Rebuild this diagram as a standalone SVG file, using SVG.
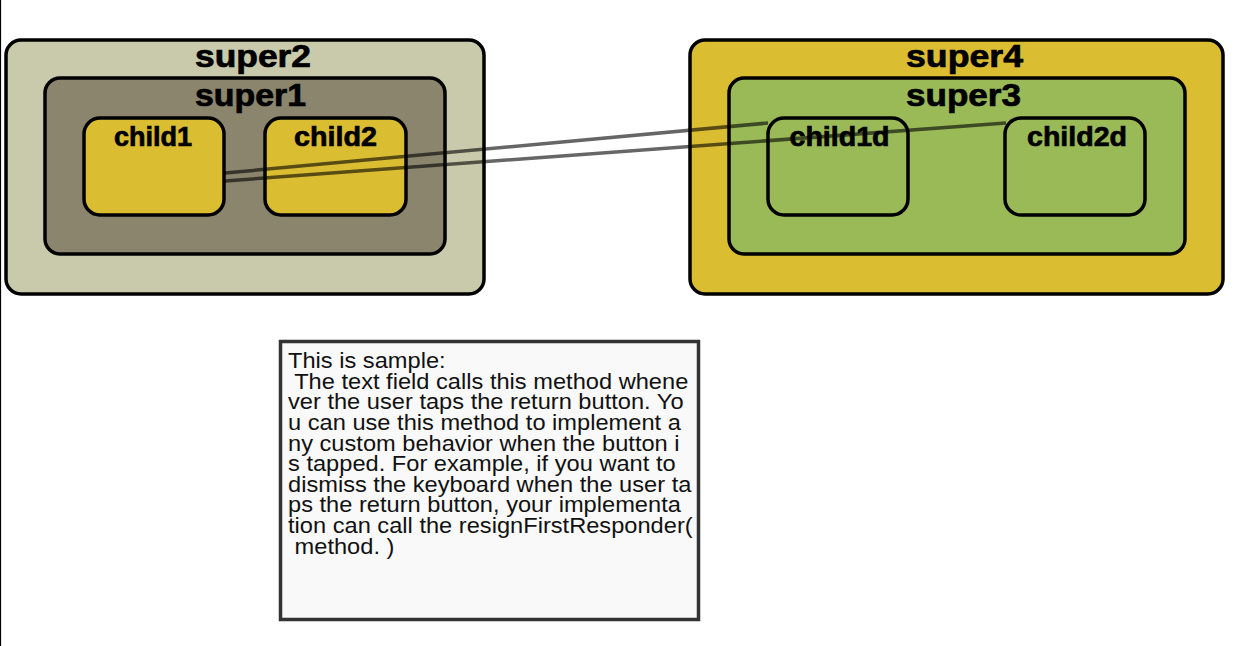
<svg xmlns="http://www.w3.org/2000/svg" width="1242" height="646" viewBox="0 0 1242 646">
<style>
.box{stroke:#000;stroke-width:3.5}
.lbl{font-family:"Liberation Sans",Arial,sans-serif;font-weight:bold;fill:#000;stroke:#000;stroke-width:0.7}
.sup{font-size:31px}
.chl{font-size:28px}
.olive{fill:#c9caab}
.dark{fill:#8a856c}
.yel{fill:#dbbd31}
.grn{fill:#9aba58}
.conn{stroke:#000;stroke-opacity:0.6;stroke-width:3.5;fill:none}
.note{font-family:"Liberation Sans",Arial,sans-serif;font-size:22px;fill:#111}
</style>
<rect x="0" y="0" width="1242" height="646" fill="#fff"/>
<line x1="0.5" y1="0" x2="0.5" y2="646" stroke="#000" stroke-width="1.2"/>
<g id="super2">
<rect class="box olive" x="6" y="40" width="478" height="254" rx="15"/>
<text class="lbl sup" x="195" y="67" textLength="116" lengthAdjust="spacingAndGlyphs">super2</text>
</g>
<g id="super1">
<rect class="box dark" x="45" y="78" width="400" height="176" rx="15"/>
<text class="lbl sup" x="195" y="106" textLength="111" lengthAdjust="spacingAndGlyphs">super1</text>
</g>
<g id="child1">
<rect class="box yel" x="84" y="118" width="140" height="97" rx="16"/>
<text class="lbl chl" x="153" y="146" text-anchor="middle" textLength="78" lengthAdjust="spacingAndGlyphs">child1</text>
</g>
<g id="child2">
<rect class="box yel" x="265" y="118" width="141" height="97" rx="16"/>
<text class="lbl chl" x="335.5" y="146" text-anchor="middle" textLength="83" lengthAdjust="spacingAndGlyphs">child2</text>
</g>
<g id="super4">
<rect class="box yel" x="690" y="40" width="533" height="254" rx="15"/>
<text class="lbl sup" x="906" y="67" textLength="117" lengthAdjust="spacingAndGlyphs">super4</text>
</g>
<g id="super3">
<rect class="box grn" x="729" y="78" width="456" height="176" rx="15"/>
<text class="lbl sup" x="906" y="106" textLength="115" lengthAdjust="spacingAndGlyphs">super3</text>
</g>
<g id="child1d">
<rect class="box grn" x="768" y="118" width="140" height="97" rx="16"/>
<text class="lbl chl" x="839.5" y="146" text-anchor="middle" textLength="100" lengthAdjust="spacingAndGlyphs">child1d</text>
</g>
<g id="child2d">
<rect class="box grn" x="1005" y="118" width="140" height="97" rx="16"/>
<text class="lbl chl" x="1077" y="146" text-anchor="middle" textLength="100" lengthAdjust="spacingAndGlyphs">child2d</text>
</g>
<g id="connectors">
<line class="conn" x1="225" y1="173" x2="768" y2="123"/>
<line class="conn" x1="225" y1="181" x2="1006" y2="123"/>
</g>
<g id="note">
<rect x="280.5" y="341.5" width="418" height="278" fill="#f9f9f9" stroke="#333" stroke-width="3.5"/>
<g transform="translate(288 0) scale(1.075 1)">
<text class="note" xml:space="preserve">
<tspan x="0" y="368">This is sample:</tspan>
<tspan x="0" y="389"> The text field calls this method whene</tspan>
<tspan x="0" y="409.5">ver the user taps the return button. Yo</tspan>
<tspan x="0" y="430">u can use this method to implement a</tspan>
<tspan x="0" y="451">ny custom behavior when the button i</tspan>
<tspan x="0" y="471.5">s tapped. For example, if you want to</tspan>
<tspan x="0" y="492">dismiss the keyboard when the user ta</tspan>
<tspan x="0" y="512.5">ps the return button, your implementa</tspan>
<tspan x="0" y="533">tion can call the resignFirstResponder(</tspan>
<tspan x="0" y="554"> method. )</tspan>
</text>
</g>
</g>
</svg>
